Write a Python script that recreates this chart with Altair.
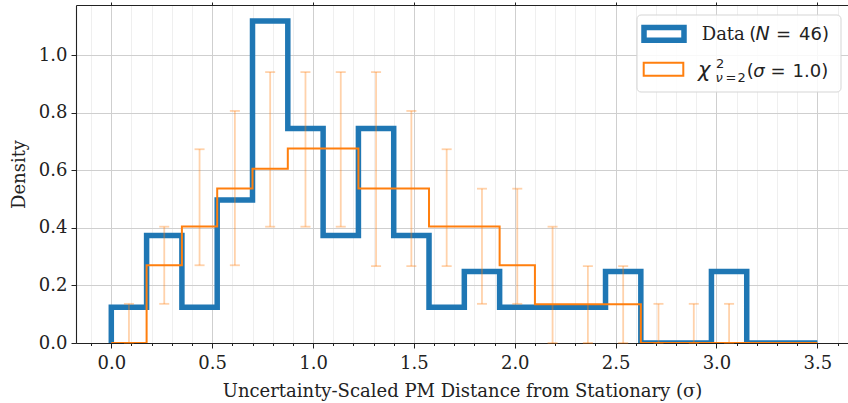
import altair as alt
import numpy as np
import pandas as pd

# ---- data ----
edges = [round(i * 0.175, 4) for i in range(21)]
data_density = [0.124, 0.373, 0.124, 0.497, 1.118, 0.745, 0.373, 0.745, 0.373, 0.124,
                0.248, 0.124, 0.124, 0.124, 0.248, 0.0, 0.0, 0.248, 0.0, 0.0]
chi2_density = [0.0, 0.27, 0.405, 0.537, 0.605, 0.676, 0.676, 0.537, 0.537, 0.405,
                0.405, 0.27, 0.135, 0.135, 0.135, 0.0, 0.0, 0.0, 0.0, 0.0]
err_low = [0.0, 0.136, 0.27, 0.27, 0.404, 0.404, 0.404, 0.267, 0.267, 0.267,
           0.136, 0.136, 0.0, 0.0, 0.0, 0.0, 0.0, 0.0]
err_high = [0.136, 0.404, 0.673, 0.806, 0.941, 0.941, 0.941, 0.941, 0.806, 0.673,
            0.536, 0.536, 0.404, 0.267, 0.267, 0.136, 0.136, 0.136]

BLUE = "#1f77b4"
ORANGE = "#ff7f0e"
SERIF = "DejaVu Serif"
SANS = "DejaVu Sans"
W, H = 772, 338


def step_df(vals):
    rows = [{"x": edges[0], "y": 0.0, "o": 0}]
    for i, v in enumerate(vals):
        rows.append({"x": edges[i], "y": v, "o": i + 1})
    rows.append({"x": edges[-1], "y": vals[-1], "o": len(vals) + 1})
    return pd.DataFrame(rows)


blue_df = step_df(data_density)
orange_df = step_df(chi2_density)
err_df = pd.DataFrame({
    "x": [(edges[i] + edges[i + 1]) / 2 for i in range(len(err_low))],
    "lo": err_low,
    "hi": err_high,
})
one = pd.DataFrame({"a": [0]})

xscale = alt.Scale(domain=[-0.175, 3.652], nice=False, zero=False)
yscale = alt.Scale(domain=[0, 1.174], nice=False, zero=False)

XMAJ = "abs(datum.value*2 - round(datum.value*2)) < 0.001"
YMAJ = "abs(datum.value*5 - round(datum.value*5)) < 0.001"

x_vals = [float(v) for v in np.round(np.arange(-0.1, 3.61, 0.1), 2)]
y_vals = [float(v) for v in np.round(np.arange(0, 1.151, 0.05), 2)]

x_axis = alt.Axis(
    values=x_vals,
    labelExpr=f"{XMAJ} ? format(datum.value, '.1f') : ''",
    tickSize={"condition": {"test": XMAJ, "value": 5}, "value": 2.5},
    gridColor={"condition": {"test": XMAJ, "value": "#cfcfcf"}, "value": "#efefef"},
    grid=True,
    gridWidth=1,
    labelPadding=6,
    title="Uncertainty-Scaled PM Distance from Stationary (σ)",
    titlePadding=10,
)
y_axis = alt.Axis(
    values=y_vals,
    labelExpr=f"{YMAJ} ? format(datum.value, '.1f') : ''",
    tickSize={"condition": {"test": YMAJ, "value": 5}, "value": 2.5},
    gridColor={"condition": {"test": YMAJ, "value": "#cfcfcf"}, "value": "#efefef"},
    grid=True,
    gridWidth=1,
    labelPadding=4,
    title="Density",
    titlePadding=10,
)
top_axis = alt.Axis(
    orient="top", values=[0.0, 0.5, 1.0, 1.5, 2.0, 2.5, 3.0, 3.5], labels=False,
    grid=False, tickSize=3, title=None, domain=True,
)

# first layer carries the bottom x axis and the y axis
blue = alt.Chart(blue_df).mark_line(
    color=BLUE, strokeWidth=5.5, interpolate="step-after", clip=True,
    strokeJoin="miter", strokeCap="butt",
).encode(
    x=alt.X("x:Q", scale=xscale, axis=x_axis),
    y=alt.Y("y:Q", scale=yscale, axis=y_axis),
    order="o:Q",
)
errs = alt.Chart(err_df).mark_rule(color=ORANGE, opacity=0.35, strokeWidth=1.8).encode(
    x=alt.X("x:Q", scale=xscale, axis=top_axis),
    y=alt.Y("lo:Q", scale=yscale),
    y2="hi:Q",
)
cap_hi = alt.Chart(err_df).mark_tick(color=ORANGE, opacity=0.35, orient="horizontal",
                                     size=10, thickness=1.8).encode(
    x=alt.X("x:Q", scale=xscale, axis=None),
    y=alt.Y("hi:Q", scale=yscale),
)
cap_lo = alt.Chart(err_df).mark_tick(color=ORANGE, opacity=0.35, orient="horizontal",
                                     size=10, thickness=1.8).encode(
    x=alt.X("x:Q", scale=xscale, axis=None),
    y=alt.Y("lo:Q", scale=yscale),
)
orange = alt.Chart(orange_df).mark_line(
    color=ORANGE, strokeWidth=2, interpolate="step-after", clip=True,
    strokeJoin="miter", strokeCap="butt",
).encode(
    x=alt.X("x:Q", scale=xscale, axis=None),
    y=alt.Y("y:Q", scale=yscale),
    order="o:Q",
)

# ---- legend (drawn by hand to allow sub/superscripts) ----
leg_box = alt.Chart(one).mark_rect(
    fill="white", fillOpacity=0.85, stroke="#d5d5d5", strokeWidth=1, cornerRadius=4,
).encode(x=alt.value(561), x2=alt.value(765), y=alt.value(10), y2=alt.value(87))
leg_blue = alt.Chart(one).mark_rect(
    fill="white", stroke=BLUE, strokeWidth=5.5,
).encode(x=alt.value(568), x2=alt.value(608), y=alt.value(22.6), y2=alt.value(35.3))
leg_orange = alt.Chart(one).mark_rect(
    fill="white", stroke=ORANGE, strokeWidth=2,
).encode(x=alt.value(567.7), x2=alt.value(607.3), y=alt.value(57.7), y2=alt.value(70.7))


def txt(t, x, y, font=SANS, size=18, style="normal"):
    return alt.Chart(one).mark_text(
        text=t, font=font, fontSize=size, fontStyle=style, align="left",
        baseline="alphabetic", color="#222222",
    ).encode(x=alt.value(x), y=alt.value(y))


legend_texts = [
    txt("Data", 625.7, 35, font=SERIF),
    txt("(", 673.3, 35),
    txt("N", 679.5, 35, size=19, style="italic"),
    txt("=", 700.0, 35),
    txt("46)", 723.0, 35),
    txt("χ", 622.0, 71.7, size=21, style="italic"),
    txt("2", 640.0, 63.0, size=13),
    txt("ν", 639.5, 77.0, size=13, style="italic"),
    txt("=", 649.5, 77.0, size=13),
    txt("2", 661.5, 77.0, size=13),
    txt("(", 670.7, 71.7),
    txt("σ", 677.3, 71.7, style="italic"),
    txt("=", 694.5, 71.7),
    txt("1.0)", 716.5, 71.7),
]

chart = alt.layer(
    blue, errs, cap_hi, cap_lo, orange, leg_box, leg_blue, leg_orange, *legend_texts
).resolve_axis(x="independent").properties(
    width=W, height=H,
    autosize=alt.AutoSizeParams(type="none"),
    padding={"left": 76, "top": 5, "right": 0, "bottom": 60},
).configure_view(stroke=None).configure_axis(
    domainColor="#222222", domainWidth=1.1, tickColor="#222222", tickWidth=1,
    labelFont=SERIF, labelFontSize=18, labelColor="#222222",
    titleFont=SERIF, titleFontSize=18, titleFontWeight="normal", titleColor="#222222",
)

chart.save("out.html", embed_options={"renderer": "svg", "actions": False})
